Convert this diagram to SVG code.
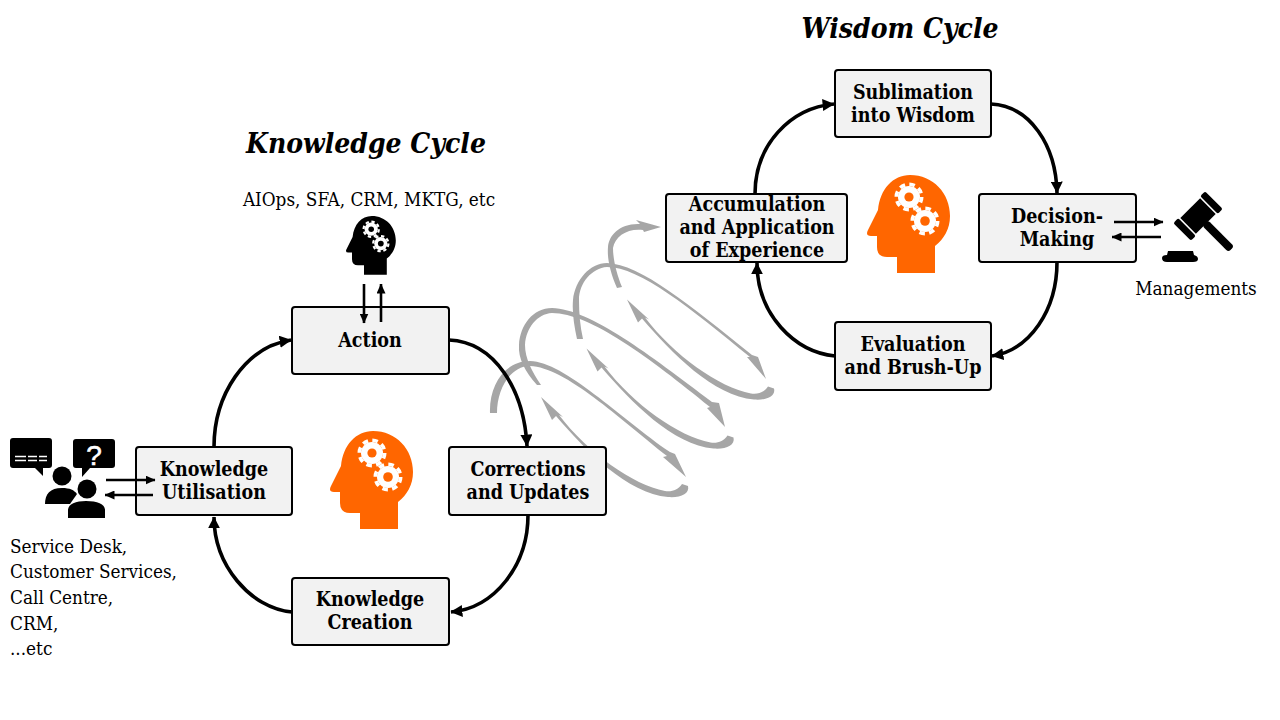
<svg xmlns="http://www.w3.org/2000/svg" xmlns:xlink="http://www.w3.org/1999/xlink" width="1280" height="720" viewBox="0 0 1280 720">
<style>
text{font-family:"DejaVu Serif Condensed","DejaVu Serif","Liberation Serif",serif;fill:#000}
.n rect{fill:#f2f2f2;stroke:#000;stroke-width:2}
.n text{font-size:19.5px;font-weight:700;text-anchor:middle}
.t{font-size:28px;font-weight:700;font-style:italic;text-anchor:middle}
.l{font-size:18.8px}
.c{fill:none;stroke:#000;stroke-width:3.6}
.s{fill:none;stroke:#000;stroke-width:2.6}
.h{fill:#a6a6a6}
</style>
<defs>
<marker id="a" viewBox="0 0 10 10" refX="9.5" refY="5" markerWidth="12" markerHeight="12" markerUnits="userSpaceOnUse" orient="auto"><path d="M0 0L10 5L0 10z"/></marker>
<marker id="b" viewBox="0 0 10 10" refX="9.5" refY="5" markerWidth="10" markerHeight="9" markerUnits="userSpaceOnUse" orient="auto" preserveAspectRatio="none"><path d="M0 0L10 5L0 10z"/></marker>
<path id="low" d="M541,397L552,420L556,416C585,450 628,494 668,497C680,498 690,494 688,486L682,484C678,490 672,492 665,491C633,485 588,453 559,415L563,417Z"/>
<g id="head">
<path fill="currentColor" d="M360,529L360,513L350,513Q340,513 340,503L340,492L334,492Q328,492 331,486L341,466C343,445 356,431 373,431C396,431 413,449 413,472C413,485 407,495 398,502L398,529Z"/>
<circle cx="372" cy="453" r="11" fill="#fff"/><circle cx="372" cy="453" r="12.7" fill="none" stroke="#fff" stroke-width="3.6" stroke-dasharray="5.6 4.37"/><circle cx="372" cy="453" r="4.6" fill="currentColor"/>
<circle cx="388" cy="477" r="11" fill="#fff"/><circle cx="388" cy="477" r="12.7" fill="none" stroke="#fff" stroke-width="3.6" stroke-dasharray="5.6 4.37"/><circle cx="388" cy="477" r="4.8" fill="currentColor"/>
</g>
</defs>
<text class="t" x="366" y="153">Knowledge Cycle</text>
<text class="t" x="900" y="38">Wisdom Cycle</text>
<g id="helix" class="h">
<path d="M490,413C489,385 505,361 530,361C565,362 620,418 670,452L675,454L686,477L663,457L667,456C620,419 565,367 530,366C511,366 497,388 497,413Z"/>
<use xlink:href="#low" href="#low"/>
<path d="M537,385C525,372 518,358 519,345C520,325 533,308 552,308C590,309 650,355 712,402L719,403L725,427L707,408L710,407C650,358 590,313 552,313C537,314 526,328 525,345C525,358 532,372 541,385Z"/>
<use xlink:href="#low" href="#low" transform="translate(45.5,-48.5)"/>
<path d="M577,339C574,325 572,312 573,300C575,280 590,263 607,263C640,264 690,305 752,355L758,357L766,379L747,357L750,357C690,308 640,267 607,267C592,268 579,283 579,300C579,313 580,326 583,339Z"/>
<use xlink:href="#low" href="#low" transform="translate(86,-97.5)"/>
<path d="M617,288C610,272 607,258 608,247C609,235 620,223 640,224L636,220L661,227L644,232L643,230C628,228 615,236 613,248C613,260 617,275 622,287Z"/>
</g>
<g id="action" class="n"><rect x="292" y="307" width="157" height="67" rx="3"/><text x="370" y="347">Action</text></g>
<g id="utilisation" class="n"><rect x="136" y="447" width="156" height="68" rx="3"/><text x="214" y="476">Knowledge</text><text x="214" y="499">Utilisation</text></g>
<g id="corrections" class="n"><rect x="449" y="447" width="157" height="68" rx="3"/><text x="528" y="476">Corrections</text><text x="528" y="499">and Updates</text></g>
<g id="creation" class="n"><rect x="292" y="578" width="157" height="67" rx="3"/><text x="370" y="606">Knowledge</text><text x="370" y="629">Creation</text></g>
<g id="sublimation" class="n"><rect x="835" y="70" width="156" height="67" rx="3"/><text x="913" y="99">Sublimation</text><text x="913" y="122">into Wisdom</text></g>
<g id="accumulation" class="n"><rect x="666" y="194" width="181" height="68" rx="3"/><text x="757" y="211">Accumulation</text><text x="757" y="234">and Application</text><text x="757" y="257">of Experience</text></g>
<g id="decision" class="n"><rect x="979" y="194" width="157" height="68" rx="3"/><text x="1057" y="223">Decision-</text><text x="1057" y="246">Making</text></g>
<g id="evaluation" class="n"><rect x="835" y="322" width="156" height="68" rx="3"/><text x="913" y="351">Evaluation</text><text x="913" y="374">and Brush-Up</text></g>
<g id="connectors">
<path class="c" marker-end="url(#a)" d="M449,340C495,342 524,390 527,446"/>
<path class="c" marker-end="url(#a)" d="M528,515C528,565 495,608 451,612"/>
<path class="c" marker-end="url(#a)" d="M292,612C250,608 214,565 214,517"/>
<path class="c" marker-end="url(#a)" d="M214,447C214,395 245,347 291,340"/>
<path class="c" marker-end="url(#a)" d="M755,194C755,145 790,108 834,104"/>
<path class="c" marker-end="url(#a)" d="M991,104C1030,106 1056,145 1057,193"/>
<path class="c" marker-end="url(#a)" d="M1057,262C1057,310 1030,350 992,356"/>
<path class="c" marker-end="url(#a)" d="M835,356C795,352 757,315 757,263"/>
<path class="s" marker-end="url(#b)" d="M106,480H155"/>
<path class="s" marker-end="url(#b)" d="M153,495H105"/>
<path class="s" marker-end="url(#b)" d="M364,284V323"/>
<path class="s" marker-end="url(#b)" d="M381,322V284"/>
<path class="s" marker-end="url(#b)" d="M1114,222H1163"/>
<path class="s" marker-end="url(#b)" d="M1161,237H1112"/>
</g>
<g id="head-knowledge"><use xlink:href="#head" href="#head" color="#ff6600"/></g>
<g id="head-wisdom"><use xlink:href="#head" href="#head" color="#ff6600" transform="translate(537,-256)"/></g>
<g id="head-aiops"><use xlink:href="#head" href="#head" color="#000" transform="translate(346,216) scale(.6) translate(-330,-431)"/></g>
<g id="people">
<path d="M13,438H49Q52,438 52,441V465Q52,468 49,468H43V476L35,468H13Q10,468 10,465V441Q10,438 13,438Z"/>
<path d="M15,456.5h11M28,456.5h9M39,456.5h8M15,460.5h11M28,460.5h9M39,460.5h8" stroke="#fff" stroke-width="1.6" fill="none"/>
<path d="M76,439H112Q115,439 115,442V465Q115,468 112,468H90L82,477V468H76Q73,468 73,465V442Q73,439 76,439Z"/>
<text x="94" y="465" style="font-family:'Liberation Sans',sans-serif;font-size:28px;font-weight:400;fill:#fff;stroke:#fff;stroke-width:.6;text-anchor:middle">?</text>
<circle cx="62" cy="476" r="9.5"/><path d="M45,504C45,494 50,488 62,488C70,488 74,490 77,494L70,504Z"/>
<circle cx="87" cy="489" r="11" fill="#fff"/><circle cx="87" cy="489" r="9.5"/><path d="M68,518V510C68,504 76,501 86,501C97,501 105,504 105,510V518Z"/>
</g>
<g id="gavel">
<g transform="translate(1198,216) rotate(45)"><rect x="-11" y="-14" width="22" height="28"/><rect x="-12.5" y="-22.5" width="25" height="7" rx="2"/><rect x="-12.5" y="15.5" width="25" height="7" rx="2"/><rect x="10" y="-4" width="37" height="8" rx="3"/></g>
<path d="M1168,251H1193L1194,255Q1198,256 1198,259Q1198,262 1193,262H1167Q1162,262 1162,258Q1162,255 1167,255Z"/>
</g>
<g id="labels">
<text class="l" x="369" y="206" text-anchor="middle">AIOps, SFA, CRM, MKTG, etc</text>
<text class="l" x="1196" y="295" text-anchor="middle">Managements</text>
<text class="l" x="10" y="553">Service Desk,</text>
<text class="l" x="10" y="578">Customer Services,</text>
<text class="l" x="10" y="604">Call Centre,</text>
<text class="l" x="10" y="630">CRM,</text>
<text class="l" x="10" y="655">...etc</text>
</g>
</svg>
